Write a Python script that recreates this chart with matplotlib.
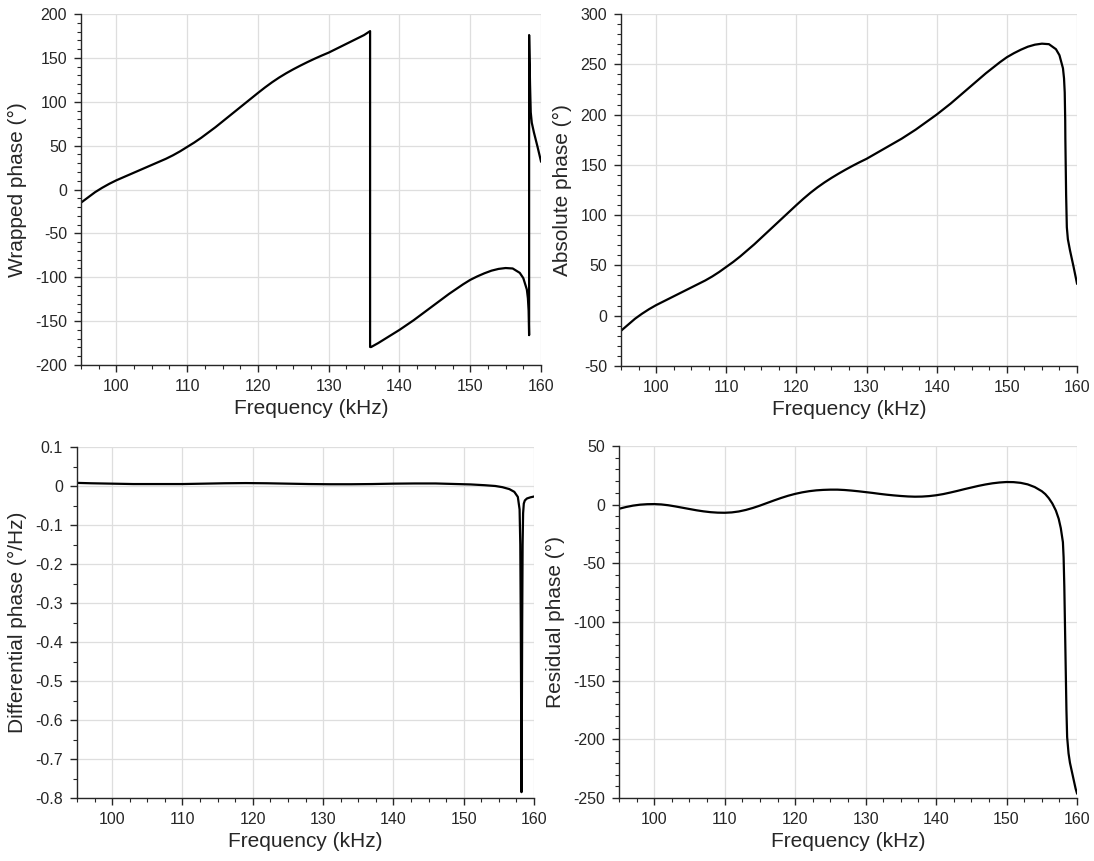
import matplotlib
matplotlib.use("Agg")
import matplotlib.pyplot as plt
from matplotlib.ticker import MultipleLocator
import numpy as np

plt.rcParams['font.family'] = ['Liberation Sans', 'DejaVu Sans']

# ---- data ----
freq_abs = [95, 96, 97, 98, 99, 100, 101, 102, 103, 104, 105, 106, 107, 108, 109,
            110, 111, 112, 113, 114, 115, 116, 117, 118, 119, 120, 121, 122, 123, 124,
            125, 126, 127, 128, 129, 130, 131, 132, 133, 134, 135, 136, 137, 138, 139,
            140, 141, 142, 143, 144, 145, 146, 147, 148, 149, 150, 151, 152, 153, 154,
            155, 156, 157, 157.5, 158, 158.15, 158.25, 158.32, 158.34, 158.45, 158.55,
            158.7, 159, 159.5, 160]
phase_abs = [-15, -9, -3, 2, 6.5, 10.5, 14, 17.5, 21, 24.5, 28, 31.5, 35, 39, 43.5,
             48.5, 53.5, 59, 65, 71, 77.5, 84, 90.5, 97, 103.5, 110, 116.3, 122.2, 127.6, 132.5,
             137, 141.2, 145.2, 149, 152.6, 156, 160, 164, 168, 172, 176, 180.5, 185, 190, 195,
             200, 205.5, 211, 217, 223, 229, 235, 241, 246.5, 252, 257, 261, 264.5, 267.5, 269.5,
             270.5, 270, 265, 259, 246, 236, 222, 194, 176, 120, 88,
             76, 65, 49, 32]

freq_wrap = [95, 96, 97, 98, 99, 100, 101, 102, 103, 104, 105, 106, 107, 108, 109,
             110, 111, 112, 113, 114, 115, 116, 117, 118, 119, 120, 121, 122, 123, 124,
             125, 126, 127, 128, 129, 130, 131, 132, 133, 134, 135, 135.85, 135.85, 136, 137,
             138, 139, 140, 141, 142, 143, 144, 145, 146, 147, 148, 149, 150, 151, 152,
             153, 154, 155, 156, 157, 157.5, 158, 158.15, 158.25, 158.32, 158.32, 158.45,
             158.55, 158.7, 159, 159.5, 160]
phase_wrap = [-15, -9, -3, 2, 6.5, 10.5, 14, 17.5, 21, 24.5, 28, 31.5, 35, 39, 43.5,
              48.5, 53.5, 59, 65, 71, 77.5, 84, 90.5, 97, 103.5, 110, 116.3, 122.2, 127.6, 132.5,
              137, 141.2, 145.2, 149, 152.6, 156, 160, 164, 168, 172, 176, 180.5, -179.5, -179.5, -175,
              -170, -165, -160, -154.5, -149, -143, -137, -131, -125, -119, -113.5, -108, -103, -99, -95.5,
              -92.5, -90.5, -89.5, -90, -95, -101, -114, -124, -138, -166, 176, 120,
              88, 76, 65, 49, 32]

freq_diff = [95, 97, 100, 103, 106, 110, 113, 116, 119, 122, 125, 128, 131, 134, 137,
             140, 143, 146, 149, 151, 153, 154.5, 155.5, 156.5, 157.2, 157.7, 157.95, 158.05,
             158.12, 158.18, 158.22, 158.27, 158.32, 158.38, 158.45, 158.55, 158.7, 159, 159.5, 160]
phase_diff = [0.008, 0.007, 0.006, 0.005, 0.005, 0.005, 0.006, 0.007, 0.0075, 0.007, 0.006, 0.005,
              0.0045, 0.0045, 0.005, 0.006, 0.0065, 0.0065, 0.005, 0.004, 0.002, 0.0, -0.003,
              -0.008, -0.015, -0.028, -0.06, -0.15, -0.35, -0.6, -0.785, -0.6, -0.35, -0.15,
              -0.07, -0.045, -0.037, -0.032, -0.029, -0.027]

freq_res = [95, 96, 97, 98, 99, 100, 101, 102, 103, 104, 105, 106, 107, 108, 109,
            110, 111, 112, 113, 114, 115, 116, 117, 118, 119, 120, 121, 122, 123, 124,
            125, 126, 127, 128, 129, 130, 131, 132, 133, 134, 135, 136, 137, 138, 139,
            140, 141, 142, 143, 144, 145, 146, 147, 148, 149, 150, 151, 152, 153, 154,
            155, 155.5, 156, 156.5, 157, 157.4, 157.7, 158, 158.1, 158.2, 158.3, 158.4, 158.5,
            158.6, 158.8, 159, 159.4, 159.8, 160]
phase_res = [-3.5, -2, -0.8, 0, 0.4, 0.5, 0.2, -0.5, -1.5, -2.6, -3.7, -4.8, -5.7, -6.4, -6.8,
             -6.9, -6.6, -5.8, -4.5, -2.8, -0.8, 1.4, 3.6, 5.7, 7.6, 9.2, 10.5, 11.5, 12.2, 12.6,
             12.8, 12.8, 12.5, 12.0, 11.4, 10.7, 10.0, 9.2, 8.5, 7.9, 7.4, 7.0, 6.8, 6.9, 7.3,
             8.0, 9.0, 10.3, 11.7, 13.2, 14.6, 16.0, 17.2, 18.2, 18.9, 19.3, 19.2, 18.6, 17.3, 15.0,
             11.5, 9.0, 5.5, 1.0, -5, -12, -20, -32, -45, -70, -105, -140, -175,
             -198, -212, -220, -231, -242, -246]

W, H = 1094, 861
fig = plt.figure(figsize=(W / 100, H / 100), dpi=100)
text_col = '#262626'


def make_ax(x0, x1, y_top, y_bot):
    # pixel box -> figure fraction
    return fig.add_axes([x0 / W, (H - y_bot) / H, (x1 - x0) / W, (y_bot - y_top) / H])


def style(ax, ylim, ymaj, ymin, ylabel):
    ax.set_xlim(95, 160)
    ax.set_ylim(*ylim)
    ax.xaxis.set_major_locator(MultipleLocator(10))
    ax.xaxis.set_minor_locator(MultipleLocator(2.5))
    ax.yaxis.set_major_locator(MultipleLocator(ymaj))
    ax.yaxis.set_minor_locator(MultipleLocator(ymin))
    for s in ['top', 'right']:
        ax.spines[s].set_visible(False)
    for s in ['left', 'bottom']:
        ax.spines[s].set_color(text_col)
        ax.spines[s].set_linewidth(1.0)
    ax.grid(True, which='major', color='#dedede', linewidth=0.9)
    ax.set_axisbelow(True)
    ax.tick_params(which='major', direction='out', length=5, width=1.0,
                   colors=text_col, labelsize=11.5, pad=5)
    ax.tick_params(which='minor', direction='out', length=3, width=0.8, colors=text_col)
    ax.set_xlabel('Frequency (kHz)', fontsize=15, color=text_col, labelpad=4)
    ax.set_ylabel(ylabel, fontsize=15, color=text_col, labelpad=6)


ax1 = make_ax(81, 541, 14, 365)
ax1.plot(freq_wrap, phase_wrap, color='black', linewidth=1.6)
style(ax1, (-200, 200), 50, 10, 'Wrapped phase (°)')

ax2 = make_ax(621, 1077, 14, 366)
ax2.plot(freq_abs, phase_abs, color='black', linewidth=1.6)
style(ax2, (-50, 300), 50, 10, 'Absolute phase (°)')

ax3 = make_ax(77, 534, 447, 798)
ax3.plot(freq_diff, phase_diff, color='black', linewidth=1.6)
style(ax3, (-0.8, 0.1), 0.1, 0.05, 'Differential phase (°/Hz)')
ax3.yaxis.set_major_formatter(plt.FuncFormatter(lambda v, p: '0' if abs(v) < 1e-9 else ('%.1f' % v)))

ax4 = make_ax(619, 1077, 446, 798)
ax4.plot(freq_res, phase_res, color='black', linewidth=1.6)
style(ax4, (-250, 50), 50, 10, 'Residual phase (°)')

for ax in [ax1, ax2, ax4]:
    ax.yaxis.set_major_formatter(plt.FuncFormatter(lambda v, p: '%d' % v))

fig.savefig('out.png', dpi=100)
